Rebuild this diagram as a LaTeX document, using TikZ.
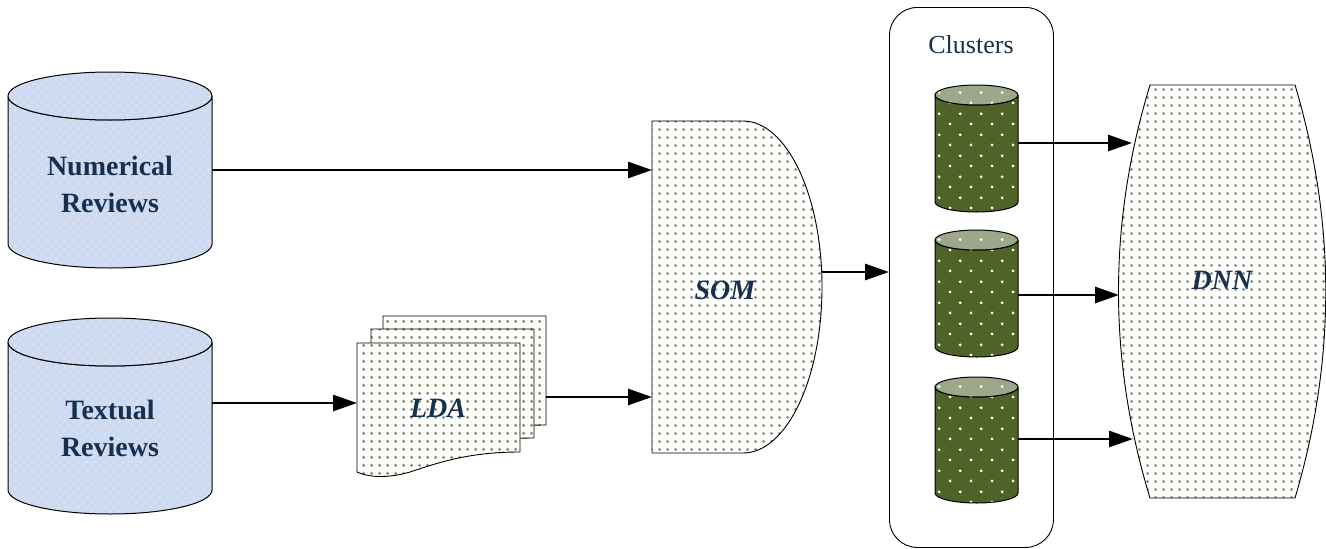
\documentclass[tikz,border=0pt]{standalone}
\usepackage{fontspec}
\setmainfont{Liberation Serif}
\usetikzlibrary{arrows.meta,patterns.meta}
\definecolor{txt}{HTML}{17304F}
\definecolor{cylblue}{HTML}{CADBF3}
\definecolor{cylpink}{HTML}{F0DCE0}
\definecolor{dkgreen}{HTML}{4F6228}
\definecolor{ltgreen}{HTML}{9DA88A}
\definecolor{dotgreen}{HTML}{7C9A48}
\tikzdeclarepattern{
  name=gdots, type=uncolored,
  bounding box={(0pt,0pt) and (8pt,8pt)},
  tile size={(8pt,8pt)},
  code={\pgfpathcircle{\pgfpoint{4pt}{4pt}}{1.8pt}\pgfusepath{fill}}
}
\tikzdeclarepattern{
  name=wdots, type=uncolored,
  bounding box={(0pt,0pt) and (21pt,21pt)},
  tile size={(21pt,21pt)},
  code={\pgfpathcircle{\pgfpoint{5.25pt}{5.25pt}}{1.6pt}\pgfpathcircle{\pgfpoint{15.75pt}{15.75pt}}{1.6pt}\pgfusepath{fill}}
}
\tikzdeclarepattern{
  name=pinkchk, type=uncolored,
  bounding box={(0pt,0pt) and (9pt,9pt)},
  tile size={(9pt,9pt)},
  code={\pgfpathrectangle{\pgfpoint{1pt}{1pt}}{\pgfpoint{2.5pt}{2.5pt}}\pgfpathrectangle{\pgfpoint{5.5pt}{5.5pt}}{\pgfpoint{2.5pt}{2.5pt}}\pgfusepath{fill}}
}
\newcommand{\mycyl}[7]{%
  \pgfmathsetmacro{\crx}{(#2-#1)/2}%
  \pgfmathsetmacro{\ccx}{(#1+#2)/2}%
  \path[#6] (#1,#3) -- (#1,#4) arc[start angle=180,end angle=0,x radius=\crx,y radius=#5] -- (#2,#3) arc[start angle=0,end angle=180,x radius=\crx,y radius=#5] -- cycle;
  \path[#7] (\ccx,#3) ellipse [x radius=\crx,y radius=#5];
}
\newcommand{\mydoc}{%
  (357,343) -- (520,343) -- (520,452) .. controls (470,452) and (440,462) .. (410,472) .. controls (390,478) and (370,478) .. (357,472) -- cycle
}
\begin{document}
\begin{tikzpicture}[x=1pt,y=-1pt,line join=round,
  bluebody/.style={draw=black,line width=1pt,preaction={fill=cylblue},pattern=pinkchk,pattern color=cylpink},
  greenbody/.style={draw=black,line width=1pt,preaction={fill=dkgreen},pattern=wdots,pattern color=white},
  greentop/.style={draw=black,line width=1pt,preaction={fill=ltgreen},pattern=wdots,pattern color=white},
  dshape/.style={draw=black,line width=0.9pt,preaction={fill=white},pattern=gdots,pattern color=dotgreen},
  arr/.style={line width=2.8pt,-{Triangle[length=24pt,width=16pt]}},
  bigtxt/.style={text=txt,align=center,font=\fontsize{28}{37}\selectfont\bfseries},
  ittxt/.style={text=txt,font=\fontsize{28}{30}\selectfont\bfseries\itshape}
]
\useasboundingbox (0,0) rectangle (1326,549);
% input cylinders
\mycyl{8}{212}{96}{244}{24}{bluebody}{bluebody}
\mycyl{8}{212}{342}{490}{24}{bluebody}{bluebody}
\node[bigtxt] (num) at (110,184) {Numerical\\Reviews};
\node[bigtxt] (txtrev) at (110,428) {Textual\\Reviews};
% LDA stack
\path[dshape,shift={(26,-27)}] \mydoc;
\path[dshape,shift={(14,-14)}] \mydoc;
\path[dshape] \mydoc;
\node[ittxt] (lda) at (438,408) {LDA};
% SOM
\path[dshape] (652,121) -- (743,121) arc[start angle=-90,end angle=90,x radius=79,y radius=166] -- (652,453) -- cycle;
\node[ittxt] (som) at (725,290) {SOM};
% Clusters
\node[draw=black,line width=0.9pt,rounded corners=28pt,minimum width=164,minimum height=540,anchor=north west,inner sep=0pt] (clusters) at (889,7) {};
\node[text=txt,font=\fontsize{26}{30}\selectfont] (cltitle) at (971,45) {Clusters};
\mycyl{935}{1018}{95}{202}{10}{greenbody}{greentop}
\mycyl{935}{1018}{240}{347}{10}{greenbody}{greentop}
\mycyl{935}{1018}{387}{493}{10}{greenbody}{greentop}
% DNN
\path[dshape] (1150,85) -- (1295,85) .. controls (1336,223) and (1336,360) .. (1295,498) -- (1150,498) .. controls (1108,360) and (1108,223) .. (1150,85) -- cycle;
\node[ittxt] (dnn) at (1222,280) {DNN};
% connector end points
\coordinate (numout) at (212,170);
\coordinate (somin1) at (652,170);
\coordinate (txtout) at (212,403);
\coordinate (ldain) at (357,403);
\coordinate (ldaout) at (546,397);
\coordinate (somin2) at (652,397);
\coordinate (somout) at (822,272);
\coordinate (c1out) at (1018,143);
\coordinate (c2out) at (1018,295);
\coordinate (c3out) at (1018,439);
\coordinate (dnnin1) at (1132,143);
\coordinate (dnnin2) at (1119,295);
\coordinate (dnnin3) at (1133,439);
% connectors
\draw[arr] (numout) -- (somin1);
\draw[arr] (txtout) -- (ldain);
\draw[arr] (ldaout) -- (somin2);
\draw[arr] (somout) -- (clusters.west |- somout);
\draw[arr] (c1out) -- (dnnin1);
\draw[arr] (c2out) -- (dnnin2);
\draw[arr] (c3out) -- (dnnin3);
\end{tikzpicture}
\end{document}
